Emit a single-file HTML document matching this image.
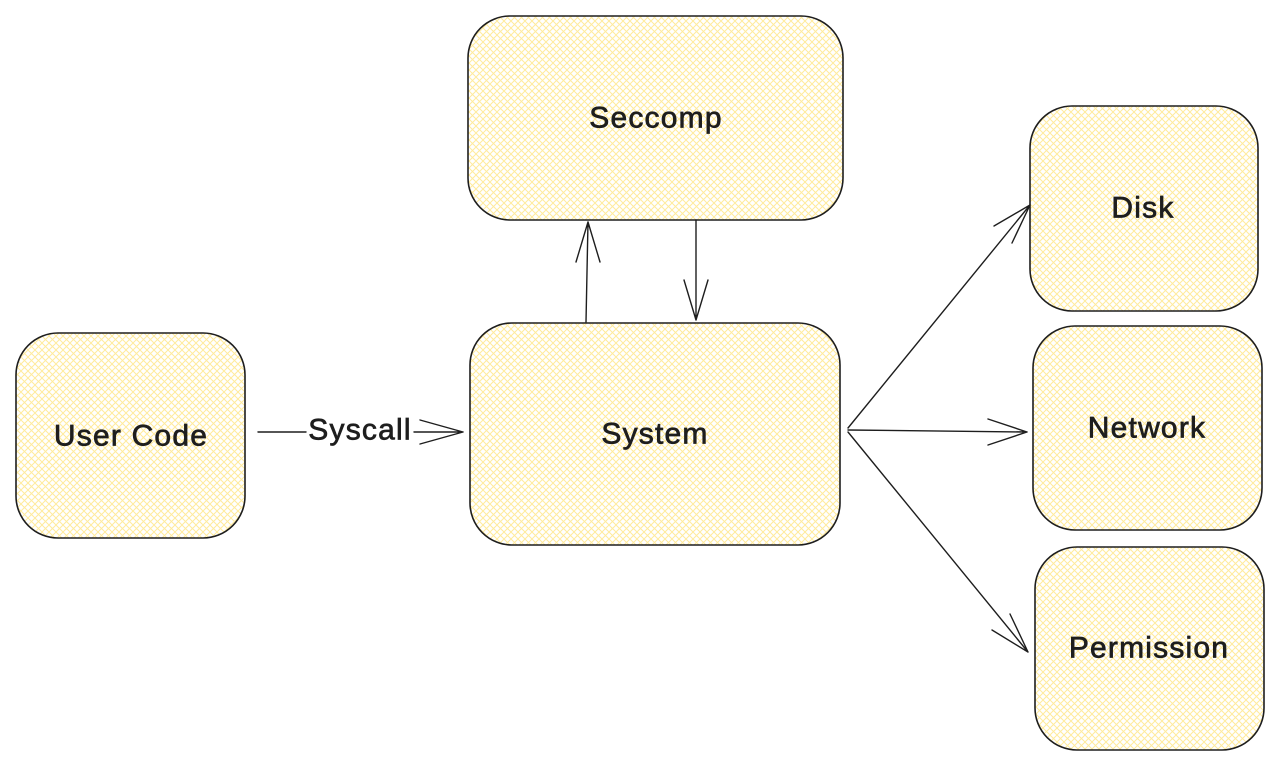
<!DOCTYPE html>
<html><head><meta charset="utf-8"><style>
html,body{margin:0;padding:0;background:#fff;}
svg{display:block}
text{font-family:"Liberation Sans",sans-serif;font-size:30px;letter-spacing:1.2px;fill:#1e1e1e;stroke:#1e1e1e;stroke-width:0.7;text-anchor:middle;dominant-baseline:central}
</style></head><body>
<svg width="1280" height="767" viewBox="0 0 1280 767" xmlns="http://www.w3.org/2000/svg">
<defs>
<pattern id="h" width="7" height="7" patternUnits="userSpaceOnUse">
<rect width="7" height="7" fill="#fff"/>
<path d="M-1,8 L8,-1 M-1,-1 L8,8" stroke="#ffeb9c" stroke-width="1"/>
</pattern>
</defs>
<g stroke="#1e1e1e" stroke-width="1.6" fill="url(#h)">
<rect x="468" y="16" width="375" height="204" rx="42"/>
<rect x="470" y="323" width="370" height="222" rx="42"/>
<rect x="16" y="333" width="229" height="205" rx="42"/>
<rect x="1030" y="106" width="228" height="205" rx="42"/>
<rect x="1033" y="326" width="229" height="204" rx="42"/>
<rect x="1035" y="547" width="229" height="203" rx="42"/>
</g>
<g stroke="#1e1e1e" stroke-width="1.4" fill="none" stroke-linecap="round">
<path d="M258,432 L306,432"/>
<path d="M414,432 L463,432 M463,432 L420,420 M463,432 L420,444"/>
<path d="M586,322 L588,222 M588,222 L576,262 M588,222 L600,262"/>
<path d="M696,220 L696,320 M696,320 L684,280 M696,320 L708,280"/>
<path d="M848,428 L1030,205 M1030,205 L994,226 M1030,205 L1012,243"/>
<path d="M848,430 L1027,432 M1027,432 L988,419 M1027,432 L988,445"/>
<path d="M848,432 L1028,652 M1028,652 L1010,614 M1028,652 L992,630"/>
</g>
<text x="656" y="118">Seccomp</text>
<text x="655" y="434">System</text>
<text x="131" y="436">User Code</text>
<text x="1143" y="208">Disk</text>
<text x="1147" y="428">Network</text>
<text x="1149" y="648">Permission</text>
<text x="360" y="430">Syscall</text>
</svg>
</body></html>
